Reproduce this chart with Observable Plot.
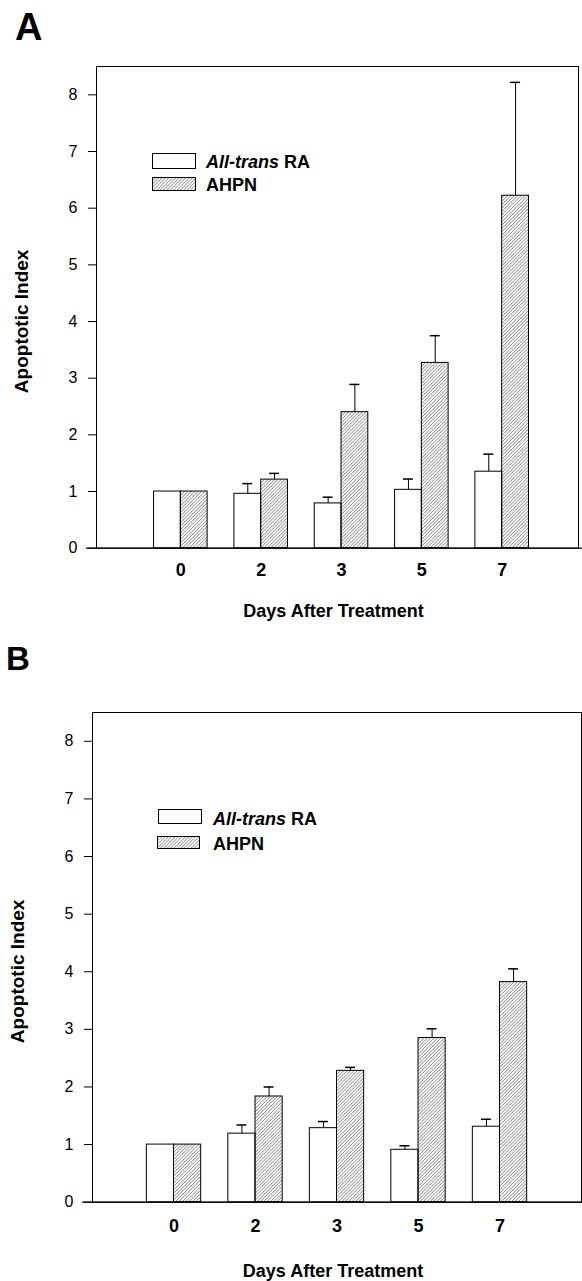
<!DOCTYPE html>
<html><head><meta charset="utf-8">
<script src="https://cdn.jsdelivr.net/npm/d3@7"></script>
<script src="https://cdn.jsdelivr.net/npm/@observablehq/plot@0.6"></script>
<style>
body{margin:0;background:#fff;font-family:"Liberation Sans",Arial,sans-serif;}
#wrap{position:relative;width:582px;height:1281px;overflow:hidden;background:#fff;}
.panel{position:absolute;left:0;}
.plabel{position:absolute;font-weight:bold;line-height:1;color:#000;z-index:5;}
#overlay{position:absolute;left:0;top:0;pointer-events:none;z-index:4;}
</style></head>
<body>
<div id="wrap">
  <div id="panelA" class="panel" style="top:0px;"></div>
  <div id="panelB" class="panel" style="top:640px;"></div>
  <svg id="overlay" width="582" height="1281"></svg>
  <div class="plabel" style="left:15px;top:8px;font-size:38px;">A</div>
  <div class="plabel" style="left:6px;top:642px;font-size:33px;">B</div>
</div>
<script>
// ---- data ----
const days = ["0", "2", "3", "5", "7"];
const series = ["All-trans RA", "AHPN"];
const yTicks = [0, 1, 2, 3, 4, 5, 6, 7, 8];
// Panel A
const raA = [1.0, 0.96, 0.79, 1.03, 1.35];
const raAErr = [0, 0.18, 0.11, 0.19, 0.31];
const ahpnA = [1.0, 1.21, 2.40, 3.27, 6.22];
const ahpnAErr = [0, 0.11, 0.49, 0.48, 2.00];
// Panel B
const raB = [1.0, 1.19, 1.285, 0.91, 1.31];
const raBErr = [0, 0.15, 0.115, 0.07, 0.13];
const ahpnB = [1.0, 1.835, 2.28, 2.85, 3.82];
const ahpnBErr = [0, 0.165, 0.06, 0.16, 0.23];

// hatch pattern + legends in overlay svg
const ov = d3.select("#overlay");
const defs = ov.append("defs");
defs.append("pattern").attr("id", "hatch").attr("patternUnits", "userSpaceOnUse")
  .attr("width", 2.4).attr("height", 2.4).attr("patternTransform", "rotate(45)")
  .append("line").attr("x1", 0).attr("y1", 0).attr("x2", 0).attr("y2", 2.4)
  .attr("stroke", "#111").attr("stroke-width", 0.75);

function legend(g, boxes, tx, baselines) {
  g.append("rect").attr("x", boxes[0][0]).attr("y", boxes[0][1]).attr("width", boxes[0][2]).attr("height", boxes[0][3])
    .attr("fill", "#fff").attr("stroke", "#000").attr("stroke-width", 1);
  g.append("rect").attr("x", boxes[1][0]).attr("y", boxes[1][1]).attr("width", boxes[1][2]).attr("height", boxes[1][3])
    .attr("fill", "url(#hatch)").attr("stroke", "#000").attr("stroke-width", 1);
  const t1 = g.append("text").attr("x", tx).attr("y", baselines[0])
    .attr("font-size", 18).attr("font-weight", "bold").attr("font-family", "Liberation Sans, Arial, sans-serif");
  t1.append("tspan").attr("font-style", "italic").text("All-trans");
  t1.append("tspan").text(" RA");
  g.append("text").attr("x", tx).attr("y", baselines[1])
    .attr("font-size", 18).attr("font-weight", "bold").attr("font-family", "Liberation Sans, Arial, sans-serif")
    .text(series[1]);
}
legend(ov.append("g"), [[152.5, 153.5, 43, 15], [152.5, 177.5, 43, 13]], 206, [168, 190.5]);
legend(ov.append("g"), [[158.5, 809.5, 43, 14], [157.5, 836.5, 42, 12]], 213, [825, 850]);

function rowsFor(ra, raErr, ahpn, ahpnErr) {
  const rows = [];
  const w = 1 / 3;
  days.forEach((d, i) => {
    const pos = i + 1;
    rows.push({day: d, series: series[0], value: ra[i], err: raErr[i], x1: pos - w, x2: pos, xc: pos - w / 2});
    rows.push({day: d, series: series[1], value: ahpn[i], err: ahpnErr[i], x1: pos, x2: pos + w, xc: pos + w / 2});
  });
  return rows;
}

function panel(rows, opt) {
  const errRows = rows.filter(d => d.err > 0);
  const cap = opt.cap;
  return Plot.plot({
    width: 582,
    height: opt.height,
    marginTop: opt.mt, marginBottom: opt.mb, marginLeft: opt.ml, marginRight: opt.mr,
    style: {fontFamily: "Liberation Sans, Arial, sans-serif", background: "transparent", color: "#000"},
    x: {domain: opt.xdom, axis: null},
    y: {domain: [0, 8.5], axis: null},
    marks: [
      Plot.frame({stroke: "#000", strokeWidth: 1}),
      Plot.ruleY([0], {stroke: "#000", strokeWidth: 1.2, insetLeft: -10, insetRight: -4}),
      Plot.rectY(rows.filter(d => d.series === series[0]), {x1: "x1", x2: "x2", y1: 0, y2: "value", fill: "#fff", stroke: "#000", strokeWidth: 1}),
      Plot.rectY(rows.filter(d => d.series === series[1]), {x1: "x1", x2: "x2", y1: 0, y2: "value", fill: "url(#hatch)", stroke: "#000", strokeWidth: 1}),
      Plot.ruleX(errRows, {x: "xc", y1: "value", y2: d => d.value + d.err, stroke: "#000", strokeWidth: 1}),
      Plot.ruleY(errRows, {y: d => d.value + d.err, x1: d => d.xc - cap, x2: d => d.xc + cap, stroke: "#000", strokeWidth: 1.5}),
      Plot.axisY({ticks: yTicks, tickSize: 8, tickPadding: 11, fontSize: 16, label: null, stroke: "#000"}),
      Plot.axisX({ticks: [1, 2, 3, 4, 5], tickFormat: d => days[d - 1], tickSize: 0, tickPadding: opt.xpad, fontSize: 18, fontWeight: "bold", label: null}),
      Plot.text(["Days After Treatment"], {text: d => d, frameAnchor: "bottom", textAnchor: "middle", dy: opt.xtitleDy, dx: -4, fontSize: 18, fontWeight: "bold", letterSpacing: 0.3, fill: "#000"}),
      Plot.text(["Apoptotic Index"], {text: d => d, frameAnchor: "left", textAnchor: "middle", dx: -75, dy: 14, rotate: -90, fontSize: 19, fontWeight: "bold", fill: "#000"})
    ]
  });
}

const plotA = panel(rowsFor(raA, raAErr, ahpnA, ahpnAErr), {
  height: 640, mt: 66, mb: 92.3, ml: 96, mr: 4, xdom: [-0.05, 5.95], cap: 0.062, xpad: 15, xtitleDy: 69
});
document.getElementById("panelA").appendChild(plotA);

const plotB = panel(rowsFor(raB, raBErr, ahpnB, ahpnBErr), {
  height: 641, mt: 72, mb: 79.3, ml: 92, mr: 1, xdom: [0, 6], cap: 0.061, xpad: 17, xtitleDy: 75
});
document.getElementById("panelB").appendChild(plotB);
</script>
</body></html>
